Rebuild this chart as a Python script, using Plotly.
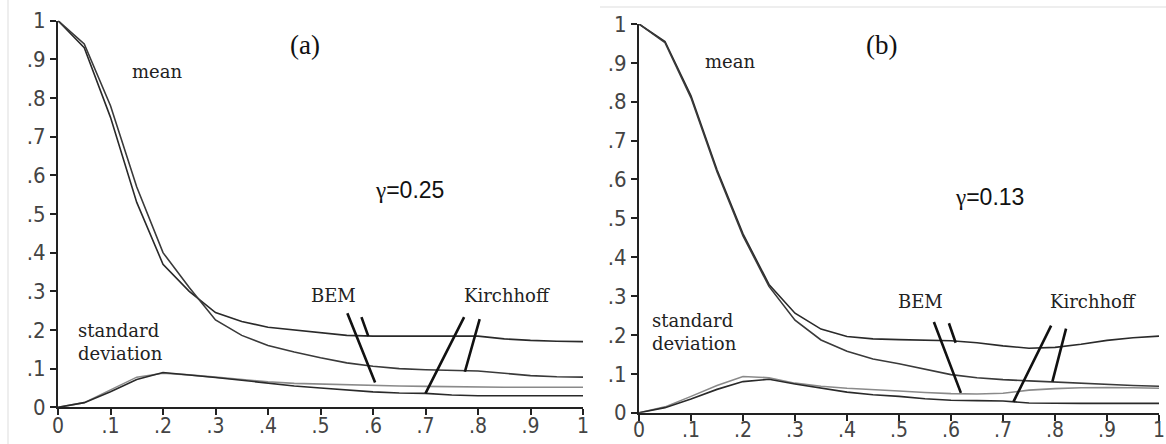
import plotly.graph_objects as go

# ---------------- data ----------------
x_grid = [0, .05, .1, .15, .2, .25, .3, .35, .4, .45, .5, .55, .6, .65, .7, .75, .8, .85, .9, .95, 1]

# panel (a), gamma = 0.25
mean_bem_a = [1.0, 0.93, 0.75, 0.53, 0.37, 0.30, 0.245, 0.222, 0.207, 0.200, 0.192, 0.186, 0.184, 0.184, 0.184,
              0.184, 0.184, 0.177, 0.173, 0.171, 0.170]
mean_kir_a = [1.0, 0.94, 0.78, 0.57, 0.40, 0.31, 0.226, 0.186, 0.160, 0.143, 0.128, 0.115, 0.106, 0.100, 0.097,
              0.096, 0.094, 0.088, 0.082, 0.079, 0.078]
std_bem_a = [0.0, 0.012, 0.045, 0.078, 0.088, 0.084, 0.078, 0.072, 0.066, 0.062, 0.060, 0.058, 0.056, 0.055,
             0.054, 0.053, 0.052, 0.052, 0.052, 0.052, 0.052]
std_kir_a = [0.0, 0.012, 0.040, 0.072, 0.090, 0.084, 0.077, 0.070, 0.062, 0.055, 0.050, 0.045, 0.040, 0.037,
             0.036, 0.032, 0.030, 0.030, 0.030, 0.030, 0.030]

# panel (b), gamma = 0.13
mean_bem_b = [1.0, 0.955, 0.815, 0.625, 0.46, 0.33, 0.256, 0.215, 0.196, 0.190, 0.188, 0.186, 0.185, 0.180,
              0.172, 0.166, 0.168, 0.176, 0.186, 0.193, 0.197]
mean_kir_b = [1.0, 0.952, 0.81, 0.62, 0.455, 0.325, 0.238, 0.187, 0.158, 0.138, 0.126, 0.112, 0.098, 0.090,
              0.085, 0.082, 0.079, 0.076, 0.072, 0.070, 0.068]
std_bem_b = [0.0, 0.015, 0.042, 0.070, 0.093, 0.090, 0.076, 0.068, 0.063, 0.060, 0.056, 0.052, 0.049, 0.048,
             0.050, 0.058, 0.062, 0.064, 0.065, 0.064, 0.063]
std_kir_b = [0.0, 0.013, 0.035, 0.060, 0.080, 0.086, 0.074, 0.063, 0.053, 0.046, 0.042, 0.036, 0.032, 0.031,
             0.030, 0.025, 0.024, 0.024, 0.024, 0.024, 0.024]

tick_vals = [0, .1, .2, .3, .4, .5, .6, .7, .8, .9, 1]
tick_text = ["0", ".1", ".2", ".3", ".4", ".5", ".6", ".7", ".8", ".9", "1"]

# label pointers: (x_from, y_from, x_to, y_to)
pointers_a = {"BEM": [(0.550, 0.247, 0.604, 0.064), (0.577, 0.237, 0.591, 0.184)],
              "Kirchhoff": [(0.775, 0.237, 0.700, 0.036), (0.804, 0.232, 0.775, 0.092)]}
pointers_b = {"BEM": [(0.566, 0.237, 0.619, 0.051), (0.595, 0.234, 0.609, 0.180)],
              "Kirchhoff": [(0.794, 0.228, 0.720, 0.028), (0.822, 0.220, 0.795, 0.080)]}

# ---------------- figure ----------------
fig = go.Figure()

DARK = "#2a2a2a"
GRAY = "#8a8a8a"

def add_panel(xa, ya, mb, mk, sb, sk):
    for ys, col in ((mb, DARK), (mk, "#3a3a3a"), (sb, GRAY), (sk, DARK)):
        fig.add_trace(go.Scatter(x=x_grid, y=ys, mode="lines", xaxis=xa, yaxis=ya,
                                 line=dict(color=col, width=1.6), showlegend=False,
                                 hoverinfo="skip"))

add_panel("x", "y", mean_bem_a, mean_kir_a, std_bem_a, std_kir_a)
add_panel("x2", "y2", mean_bem_b, mean_kir_b, std_bem_b, std_kir_b)

tick_font = dict(family="Liberation Sans Narrow, DejaVu Sans Condensed, Liberation Sans", size=22, color="#444")
axis_common = dict(range=[0, 1], showgrid=False, zeroline=False, showline=True, linecolor="#222",
                   linewidth=2, ticks="outside", ticklen=6, tickwidth=2, tickcolor="#222",
                   tickvals=tick_vals, ticktext=tick_text, fixedrange=True,
                   automargin=False)
xtick_font = dict(tick_font, size=21)

fig.update_layout(
    template="none",
    width=1166, height=444, margin=dict(l=0, r=0, t=0, b=0, pad=0),
    paper_bgcolor="white", plot_bgcolor="white",
    xaxis=dict(domain=[58 / 1166, 583 / 1166], anchor="y", ticklabelstandoff=-8, tickfont=xtick_font,
               **axis_common),
    yaxis=dict(domain=[(444 - 407.3) / 444, (444 - 20.7) / 444], anchor="x", tickfont=tick_font, **axis_common),
    xaxis2=dict(domain=[639 / 1166, 1159 / 1166], anchor="y2", ticklabelstandoff=-9, tickfont=xtick_font,
                **axis_common),
    yaxis2=dict(domain=[(444 - 412.7) / 444, (444 - 24) / 444], anchor="x2", tickfont=tick_font, **axis_common),
)

serif = dict(family="DejaVu Serif", size=18, color="#222")
times = dict(family="Liberation Serif", size=27, color="#111")
gfont = dict(family="Liberation Sans", size=23, color="#111")

def add_texts(xr, yr, tag, gamma, mean_xy, sd_xy, gamma_xy, tag_xy, bem_xy, kir_xy, pointers):
    ann = []
    ann.append(dict(x=tag_xy[0], y=tag_xy[1], xref=xr, yref=yr, text=tag, showarrow=False, font=times))
    ann.append(dict(x=mean_xy[0], y=mean_xy[1], xref=xr, yref=yr, text="mean", showarrow=False, font=serif))
    ann.append(dict(x=sd_xy[0], y=sd_xy[1], xref=xr, yref=yr, text="standard<br>deviation", align="left",
                    xanchor="left", showarrow=False, font=serif))
    ann.append(dict(x=gamma_xy[0], y=gamma_xy[1], xref=xr, yref=yr,
                    text="<span style='font-family:Liberation Serif'>γ</span>" + gamma,
                    showarrow=False, font=gfont))
    ann.append(dict(x=bem_xy[0], y=bem_xy[1], xref=xr, yref=yr, text="BEM", showarrow=False, font=serif))
    ann.append(dict(x=kir_xy[0], y=kir_xy[1], xref=xr, yref=yr, text="Kirchhoff", showarrow=False, font=serif))
    for segs in pointers.values():
        for (x0, y0, x1, y1) in segs:
            ann.append(dict(x=x1, y=y1, ax=x0, ay=y0, xref=xr, yref=yr, axref=xr, ayref=yr, text="",
                            showarrow=True, arrowhead=0, arrowwidth=2.6, arrowcolor="#111",
                            standoff=0, startstandoff=0))
    return ann

annotations = []
annotations += add_texts("x", "y", "(a)", "=0.25", (0.189, 0.868), (0.035, 0.168), (0.67, 0.562),
                         (0.47, 0.937), (0.524, 0.29), (0.855, 0.29), pointers_a)
annotations += add_texts("x2", "y2", "(b)", "=0.13", (0.175, 0.903), (0.022, 0.207), (0.675, 0.555),
                         (0.467, 0.946), (0.542, 0.286), (0.874, 0.286), pointers_b)
fig.update_layout(annotations=annotations)

# faint scan borders
fig.add_shape(type="line", xref="paper", yref="paper", x0=8 / 1166, x1=8 / 1166, y0=0, y1=1,
              line=dict(color="#dddddd", width=1))
fig.add_shape(type="line", xref="paper", yref="paper", x0=600 / 1166, x1=1, y0=(444 - 7) / 444,
              y1=(444 - 7) / 444, line=dict(color="#dddddd", width=1))

fig.write_html("out.html", config={"displayModeBar": False},
               post_script="document.body.style.margin='0';document.body.style.overflow='hidden';")
